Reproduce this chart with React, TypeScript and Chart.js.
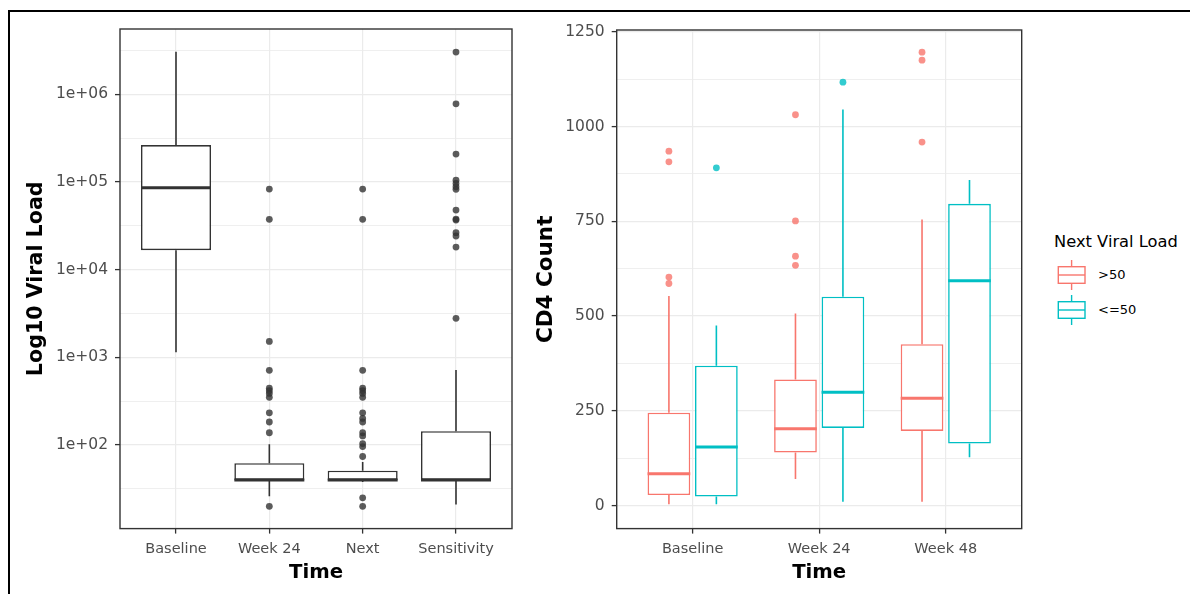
import React, { useEffect, useRef } from 'react';
import { Chart, registerables } from 'chart.js';

Chart.register(...registerables);

// ---------------- Left panel: viral load (log10 scale) ----------------
const vlCategories = ['Baseline', 'Week 24', 'Next', 'Sensitivity'];
const vlWhiskerLow = [1140, 26, 38, 21];
const vlQ1 = [16700, 40, 40, 40];
const vlMedian = [86000, 40, 40, 40];
const vlQ3 = [264000, 62, 51, 144];
const vlWhiskerHigh = [3050000, 102, 64, 716];
const vlOutliersBaseline: number[] = [];
const vlOutliersWeek24 = [83000, 37500, 1520, 711, 444, 416, 388, 350, 233, 183, 138, 20];
const vlOutliersNext = [83000, 37500, 711, 444, 416, 388, 350, 233, 201, 183, 138, 127, 104, 96, 74, 25, 20];
const vlOutliersSensitivity = [3030000, 780000, 208000, 105000, 96400, 88300, 82400, 47900, 37800, 36800, 26400, 24200, 18100, 2790];
const vlTickValues = [100, 1000, 10000, 100000, 1000000];
const vlTickLabels = ['1e+02', '1e+03', '1e+04', '1e+05', '1e+06'];
const vlMinorTickValues = [31.62, 316.2, 3162, 31623, 316228, 3162278];
const vlAxisLimits = [11.14, 5559000];

// ---------------- Right panel: CD4 count ----------------
const cd4Categories = ['Baseline', 'Week 24', 'Week 48'];
const cd4GroupLabels = ['>50', '<=50'];
const cd4GroupColors = ['#F8766D', '#00BFC4'];
const cd4GroupPointColors = ['rgba(248,118,109,0.8)', 'rgba(0,191,196,0.8)'];

const highWhiskerLow = [4, 70, 10];
const highQ1 = [28, 140, 197];
const highMedian = [84, 203, 283];
const highQ3 = [245, 333, 426];
const highWhiskerHigh = [553, 507, 755];
const highOutliersBaseline = [935, 907, 603, 586];
const highOutliersWeek24 = [1031, 751, 658, 634];
const highOutliersWeek48 = [1196, 1175, 959];

const lowWhiskerLow = [4, 10, 128];
const lowQ1 = [24, 205, 164];
const lowMedian = [155, 299, 593];
const lowQ3 = [369, 551, 796];
const lowWhiskerHigh = [475, 1045, 859];
const lowOutliersBaseline = [891];
const lowOutliersWeek24 = [1117];
const lowOutliersWeek48: number[] = [];

const cd4TickValues = [0, 250, 500, 750, 1000, 1250];
const cd4TickLabels = ['0', '250', '500', '750', '1000', '1250'];
const cd4MinorTickValues = [125, 375, 625, 875, 1125];
const cd4AxisLimits = [-60.5, 1254.6];

// ---------------- styling ----------------
const FONT = '"DejaVu Sans", "Liberation Sans", sans-serif';
const INK = '#333333';
const GRID = '#EBEBEB';
const TICK_TEXT = '#4D4D4D';
const BOX_WIDTH = 0.75;

const boxplotPlugin = {
  id: 'boxplotExtras',
  afterDatasetsDraw(chart: any) {
    const { ctx } = chart;
    const yScale = chart.scales.y;
    chart.data.datasets.forEach((ds: any, di: number) => {
      const meta = chart.getDatasetMeta(di);
      if (meta.type !== 'bar' || !ds.boxStats) return;
      const { low, median, high } = ds.boxStats;
      meta.data.forEach((el: any, i: number) => {
        const { x, width, base, y } = el.getProps(['x', 'width', 'base', 'y'], true);
        const top = Math.min(y, base);
        const bottom = Math.max(y, base);
        ctx.save();
        ctx.strokeStyle = ds.borderColor;
        ctx.lineWidth = ds.borderWidth;
        ctx.beginPath();
        ctx.moveTo(x, top);
        ctx.lineTo(x, yScale.getPixelForValue(high[i]));
        ctx.moveTo(x, bottom);
        ctx.lineTo(x, yScale.getPixelForValue(low[i]));
        ctx.stroke();
        const my = yScale.getPixelForValue(median[i]);
        ctx.lineWidth = ds.medianWidth;
        ctx.beginPath();
        ctx.moveTo(x - width / 2, my);
        ctx.lineTo(x + width / 2, my);
        ctx.stroke();
        ctx.restore();
      });
    });
  },
  afterDraw(chart: any) {
    const { ctx, chartArea: a } = chart;
    ctx.save();
    ctx.strokeStyle = INK;
    ctx.lineWidth = 1.4;
    ctx.strokeRect(a.left, a.top, a.right - a.left, a.bottom - a.top);
    ctx.restore();
  },
};

function isIn(list: number[], v: number) {
  return list.some((t) => Math.abs(t - v) < 1e-6);
}

function makeXScale(categories: string[]) {
  const positions = categories.map((_, i) => i + 1);
  return {
    type: 'linear',
    min: 0.4,
    max: categories.length + 0.6,
    offset: false,
    afterBuildTicks: (scale: any) => {
      scale.ticks = positions.map((v) => ({ value: v }));
    },
    afterFit: (scale: any) => {
      scale.height = 65.4;
    },
    grid: {
      offset: false,
      color: GRID,
      lineWidth: 1.2,
      drawTicks: true,
      tickLength: 5,
      tickColor: INK,
      tickWidth: 1.3,
    },
    border: { display: false },
    ticks: {
      autoSkip: false,
      maxRotation: 0,
      padding: 6.5,
      color: TICK_TEXT,
      font: { family: FONT, size: 14.5 },
      callback: (v: number) => {
        const idx = positions.findIndex((p) => Math.abs(p - v) < 1e-6);
        return idx >= 0 ? categories[idx] : '';
      },
    },
    title: {
      display: true,
      text: 'Time',
      color: '#000',
      font: { family: FONT, size: 19.7, weight: 'bold' },
      padding: { top: 0, bottom: 9.5 },
    },
  };
}

function makeYScale(opts: {
  min: number; max: number; major: number[]; minor: number[]; labels: string[];
  width: number; title: string; titlePad: number; titleSize: number;
}) {
  const all = [...opts.major, ...opts.minor].sort((a, b) => a - b);
  return {
    type: 'linear',
    min: opts.min,
    max: opts.max,
    afterBuildTicks: (scale: any) => {
      scale.ticks = all.map((v) => ({ value: v }));
    },
    afterFit: (scale: any) => {
      scale.width = opts.width;
    },
    grid: {
      color: GRID,
      lineWidth: (c: any) => (c.tick && isIn(opts.major, c.tick.value) ? 1.2 : 0.8),
      drawTicks: true,
      tickLength: 5,
      tickColor: (c: any) => (c.tick && isIn(opts.major, c.tick.value) ? INK : 'rgba(0,0,0,0)'),
      tickWidth: 1.3,
    },
    border: { display: false },
    ticks: {
      autoSkip: false,
      padding: 7,
      color: TICK_TEXT,
      font: { family: FONT, size: 15.5 },
      callback: (v: number) => {
        const idx = opts.major.findIndex((t) => Math.abs(t - v) < 1e-6);
        return idx >= 0 ? opts.labels[idx] : '';
      },
    },
    title: {
      display: true,
      text: opts.title,
      color: '#000',
      font: { family: FONT, size: opts.titleSize, weight: 'bold' },
      padding: { top: opts.titlePad, bottom: 0 },
    },
  };
}

function leftConfig(): any {
  const log = (v: number) => Math.log10(v);
  const outlierLists = [vlOutliersBaseline, vlOutliersWeek24, vlOutliersNext, vlOutliersSensitivity];
  const outlierPoints = outlierLists.flatMap((list, i) => list.map((v) => ({ x: i + 1, y: log(v) })));
  return {
    type: 'bar',
    data: {
      datasets: [
        {
          type: 'bar',
          label: 'Log10 Viral Load',
          data: vlCategories.map((_, i) => ({ x: i + 1, y: [log(vlQ1[i]), log(vlQ3[i])] })),
          backgroundColor: '#FFFFFF',
          borderColor: INK,
          borderWidth: 1.6,
          borderSkipped: false,
          categoryPercentage: BOX_WIDTH,
          barPercentage: 1,
          medianWidth: 3,
          boxStats: {
            low: vlWhiskerLow.map(log),
            median: vlMedian.map(log),
            high: vlWhiskerHigh.map(log),
          },
          order: 2,
        },
        {
          type: 'scatter',
          label: 'Outliers',
          data: outlierPoints,
          pointRadius: 3.4,
          pointBorderWidth: 0,
          pointBackgroundColor: 'rgba(51,51,51,0.8)',
          order: 1,
        },
      ],
    },
    options: {
      animation: false,
      responsive: false,
      devicePixelRatio: 1,
      events: [],
      layout: { padding: { top: 17, right: 10, bottom: 0, left: 0 } },
      plugins: { legend: { display: false }, tooltip: { enabled: false } },
      scales: {
        x: makeXScale(vlCategories),
        y: makeYScale({
          min: log(vlAxisLimits[0]),
          max: log(vlAxisLimits[1]),
          major: vlTickValues.map(log),
          minor: vlMinorTickValues.map(log),
          labels: vlTickLabels,
          width: 110,
          title: 'Log10 Viral Load',
          titlePad: 14.3,
          titleSize: 20.6,
        }),
      },
    },
    plugins: [boxplotPlugin],
  };
}

function rightConfig(): any {
  const groups = [
    {
      low: highWhiskerLow, q1: highQ1, median: highMedian, q3: highQ3, high: highWhiskerHigh,
      outliers: [highOutliersBaseline, highOutliersWeek24, highOutliersWeek48],
    },
    {
      low: lowWhiskerLow, q1: lowQ1, median: lowMedian, q3: lowQ3, high: lowWhiskerHigh,
      outliers: [lowOutliersBaseline, lowOutliersWeek24, lowOutliersWeek48],
    },
  ];
  const dodge = BOX_WIDTH / (2 * groups.length);
  const boxSets = groups.map((g, gi) => ({
    type: 'bar',
    label: cd4GroupLabels[gi],
    data: cd4Categories.map((_, i) => ({ x: i + 1, y: [g.q1[i], g.q3[i]] })),
    backgroundColor: '#FFFFFF',
    borderColor: cd4GroupColors[gi],
    borderWidth: 1.6,
    borderSkipped: false,
    categoryPercentage: BOX_WIDTH,
    barPercentage: 0.9,
    medianWidth: 3,
    boxStats: { low: g.low, median: g.median, high: g.high },
    order: 2,
  }));
  const pointSets = groups.map((g, gi) => ({
    type: 'scatter',
    label: cd4GroupLabels[gi] + ' outliers',
    data: g.outliers.flatMap((list, i) =>
      list.map((v) => ({ x: i + 1 + (gi === 0 ? -dodge : dodge), y: v }))
    ),
    pointRadius: 3.4,
    pointBorderWidth: 0,
    pointBackgroundColor: cd4GroupPointColors[gi],
    order: 1,
  }));
  return {
    type: 'bar',
    data: { datasets: [...boxSets, ...pointSets] },
    options: {
      animation: false,
      responsive: false,
      devicePixelRatio: 1,
      events: [],
      layout: { padding: { top: 18, right: 10.3, bottom: 0, left: 0 } },
      plugins: { legend: { display: false }, tooltip: { enabled: false } },
      scales: {
        x: makeXScale(cd4Categories),
        y: makeYScale({
          min: cd4AxisLimits[0],
          max: cd4AxisLimits[1],
          major: cd4TickValues,
          minor: cd4MinorTickValues,
          labels: cd4TickLabels,
          width: 94.7,
          title: 'CD4 Count',
          titlePad: 11.6,
          titleSize: 21.5,
        }),
      },
    },
    plugins: [boxplotPlugin],
  };
}

function LegendKey({ color, top }: { color: string; top: number }) {
  return (
    <svg
      width={30}
      height={32}
      style={{ position: 'absolute', left: 1057, top: top, overflow: 'visible' }}
    >
      <line x1={14.6} y1={0} x2={14.6} y2={30} stroke={color} strokeWidth={1.4} />
      <rect x={1.3} y={6.7} width={26.7} height={16.6} fill="#fff" stroke={color} strokeWidth={1.4} />
      <line x1={1.3} y1={15} x2={28} y2={15} stroke={color} strokeWidth={1.4} />
    </svg>
  );
}

export default function App() {
  const leftRef = useRef<HTMLCanvasElement>(null);
  const rightRef = useRef<HTMLCanvasElement>(null);

  useEffect(() => {
    const c1 = new Chart(leftRef.current as HTMLCanvasElement, leftConfig());
    const c2 = new Chart(rightRef.current as HTMLCanvasElement, rightConfig());
    return () => {
      c1.destroy();
      c2.destroy();
    };
  }, []);

  const textBase: React.CSSProperties = {
    position: 'absolute',
    fontFamily: FONT,
    color: '#000',
    whiteSpace: 'nowrap',
    height: 20,
    lineHeight: '20px',
  };

  return (
    <div
      style={{
        position: 'fixed',
        left: 0,
        top: 0,
        width: 1190,
        height: 594,
        overflow: 'hidden',
        background: '#fff',
      }}
    >
      <div
        style={{
          position: 'absolute',
          left: 8,
          top: 10,
          width: 1300,
          height: 700,
          borderTop: '2px solid #000',
          borderLeft: '2px solid #000',
        }}
      />
      <canvas
        ref={leftRef}
        width={512}
        height={582}
        style={{ position: 'absolute', left: 10, top: 12, width: 512, height: 582 }}
      />
      <canvas
        ref={rightRef}
        width={510}
        height={582}
        style={{ position: 'absolute', left: 522, top: 12, width: 510, height: 582 }}
      />
      <div style={{ ...textBase, left: 1054, top: 232, fontSize: 16.3 }}>Next Viral Load</div>
      <LegendKey color={cd4GroupColors[0]} top={260} />
      <LegendKey color={cd4GroupColors[1]} top={295} />
      <div style={{ ...textBase, left: 1098, top: 265, fontSize: 13 }}>{cd4GroupLabels[0]}</div>
      <div style={{ ...textBase, left: 1098, top: 300, fontSize: 13 }}>{cd4GroupLabels[1]}</div>
    </div>
  );
}
